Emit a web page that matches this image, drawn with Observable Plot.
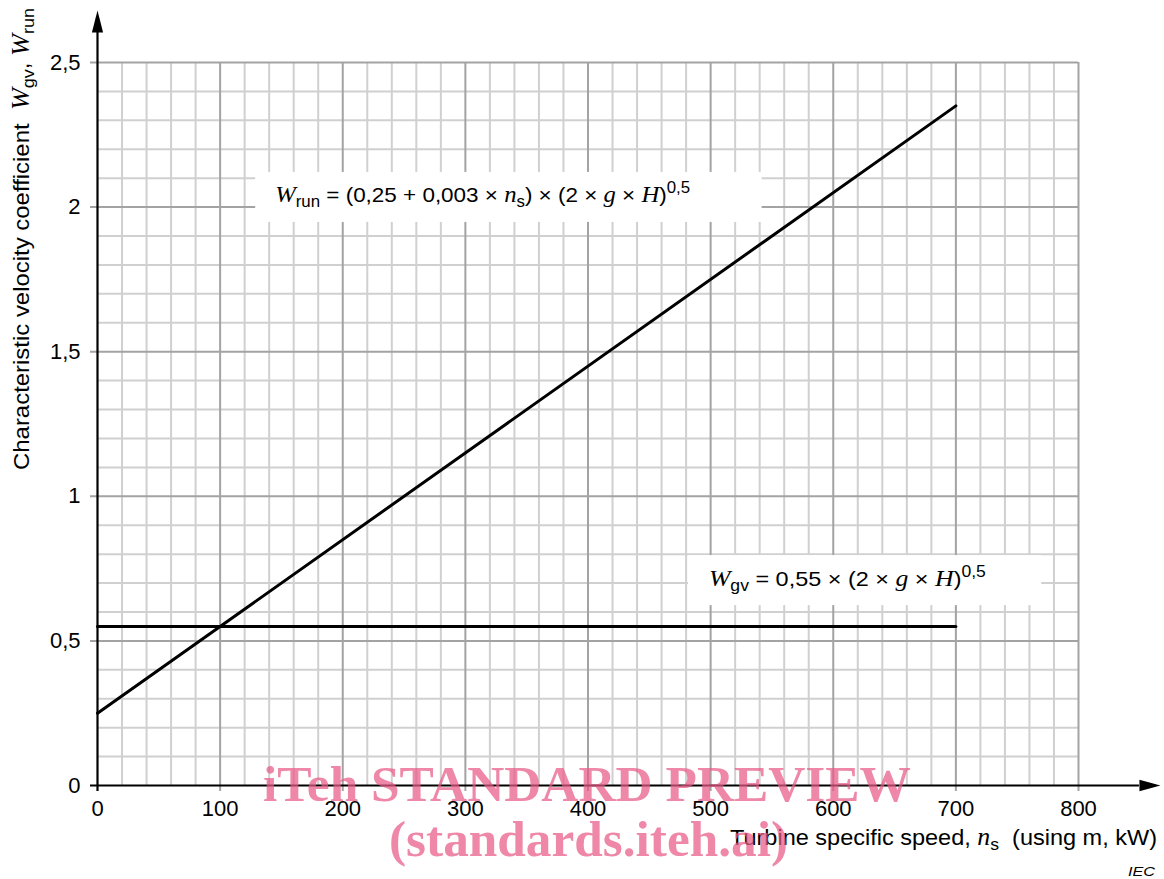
<!DOCTYPE html>
<html><head><meta charset="utf-8">
<script src="https://cdn.jsdelivr.net/npm/d3@7"></script>
<script src="https://cdn.jsdelivr.net/npm/@observablehq/plot@0.6"></script>
<style>body{margin:0;background:#fff}</style>
</head><body><div id="chart"></div>
<script>
// ---- data ----
const xTicks = [0, 100, 200, 300, 400, 500, 600, 700, 800];
const yTicks = [0, 0.5, 1, 1.5, 2, 2.5];
const yTickLabels = ["0", "0,5", "1", "1,5", "2", "2,5"];
const nsValues = [0, 700];          // turbine specific speed
const wRunValues = [0.25, 2.35];    // W_run
const wGvValues = [0.55, 0.55];     // W_gv
const labelBoxes = [
  {x1: 129, x2: 542, y1: 1.947, y2: 2.12},
  {x1: 482, x2: 770, y1: 0.622, y2: 0.795}
];

const SANS = "'Liberation Sans', Arial, Helvetica, sans-serif";
const SERIF = "'Liberation Serif', 'Times New Roman', serif";

const xMinor = d3.range(0, 801, 20).filter(v => v % 100 !== 0);
const yMinor = d3.range(1, 26).map(v => v / 10).filter(v => Math.round(v * 10) % 5 !== 0);

const runData = nsValues.map((n, i) => ({n, w: wRunValues[i]}));
const gvData = nsValues.map((n, i) => ({n, w: wGvValues[i]}));

const plot = Plot.plot({
  width: 1164, height: 879,
  marginLeft: 97, marginRight: 86, marginTop: 62, marginBottom: 94,
  x: {domain: [0, 800]},
  y: {domain: [0, 2.5]},
  style: {fontFamily: SANS, fontSize: "22px", color: "black", background: "white"},
  marks: [
    Plot.ruleX(xMinor, {y1: 0, y2: 2.5, stroke: "#d0d0d0", strokeWidth: 2}),
    Plot.ruleY(yMinor, {x1: 0, x2: 800, stroke: "#d0d0d0", strokeWidth: 2}),
    Plot.ruleX(xTicks.slice(1), {y1: -0.021, y2: 2.5, stroke: "#a3a3a3", strokeWidth: 2}),
    Plot.ruleY(yTicks.slice(1), {x1: -5.7, x2: 800, stroke: "#a3a3a3", strokeWidth: 2}),
    Plot.rect(labelBoxes, {x1: "x1", x2: "x2", y1: "y1", y2: "y2", fill: "white"}),
    Plot.line(runData, {x: "n", y: "w", stroke: "black", strokeWidth: 3}),
    Plot.line(gvData, {x: "n", y: "w", stroke: "black", strokeWidth: 3}),
    // axis lines with arrows
    Plot.ruleY([0], {x1: -5.7, x2: 849.7, stroke: "black", strokeWidth: 2.2}),
    Plot.ruleX([0], {y1: -0.021, y2: 2.604, stroke: "black", strokeWidth: 2.2}),
    Plot.vector([{x: 849.7, y: 0}], {x: "x", y: "y", length: 21, rotate: 90, shape: "spike", r: 5.8, anchor: "start", fill: "black", stroke: "none"}),
    Plot.vector([{x: 0, y: 2.604}], {x: "x", y: "y", length: 22, rotate: 0, shape: "spike", r: 5.6, anchor: "start", fill: "black", stroke: "none"}),
    Plot.axisX({ticks: xTicks, tickSize: 0, tickPadding: 15, label: null, fontSize: 22}),
    Plot.axisY({ticks: yTicks, tickFormat: d => yTickLabels[yTicks.indexOf(d)], tickSize: 0, tickPadding: 17, label: null, fontSize: 22})
  ]
});
document.getElementById("chart").appendChild(plot);

const svg = d3.select(plot);
const sx = plot.scale("x"), sy = plot.scale("y");

function rich(x, y, parts, o) {
  const t = svg.append("text")
    .attr("font-family", SANS).attr("font-size", o.size).attr("fill", "black")
    .attr("text-anchor", "start")
    .style("white-space", "pre");
  if (o.transform) t.attr("transform", o.transform); else t.attr("x", x).attr("y", y);
  if (o.italic) t.attr("font-style", "italic");
  for (const p of parts) {
    const s = t.append("tspan").text(p.t);
    if (p.it) s.attr("font-family", SERIF).attr("font-style", "italic").attr("font-size", o.size * 1.1);
    if (p.sub) s.attr("font-size", o.size * 0.75).attr("baseline-shift", `${-o.size * 0.22}px`);
    if (p.sup) s.attr("font-size", o.size * 0.75).attr("baseline-shift", `${o.size * 0.42}px`);
  }
  if (o.len) t.attr("textLength", o.len).attr("lengthAdjust", "spacingAndGlyphs");
  return t;
}

// formulas
rich(sx.apply(145.3), sy.apply(2.015), [
  {t: "W", it: true}, {t: "run", sub: true}, {t: " = (0,25 + 0,003 × "}, {t: "n", it: true}, {t: "s", sub: true},
  {t: ") × (2 × "}, {t: "g", it: true}, {t: " × "}, {t: "H", it: true}, {t: ")"}, {t: "0,5", sup: true}
], {size: 21, len: 415});
rich(sx.apply(499), sy.apply(0.688), [
  {t: "W", it: true}, {t: "gv", sub: true}, {t: " = 0,55 × (2 × "}, {t: "g", it: true}, {t: " × "}, {t: "H", it: true}, {t: ")"}, {t: "0,5", sup: true}
], {size: 21, len: 277});

// axis titles
rich(0, 0, [
  {t: "Characteristic velocity coefficient  "}, {t: "W", it: true}, {t: "gv", sub: true}, {t: ", "}, {t: "W", it: true}, {t: "run", sub: true}
], {size: 22, transform: "translate(28.5,470) rotate(-90)", len: 462});
rich(730, 845, [
  {t: "Turbine specific speed, "}, {t: "n", it: true}, {t: "s", sub: true}, {t: "  (using m, kW)"}
], {size: 22, len: 427});
rich(1128, 876, [{t: "IEC"}], {size: 13, italic: true, len: 27});

// watermark
const wm = svg.append("g").attr("fill", "rgb(232,90,135)").attr("opacity", 0.72)
  .attr("text-anchor", "start")
  .attr("font-family", SERIF).attr("font-weight", "bold").attr("font-size", 51);
wm.append("text").attr("x", 263).attr("y", 801).attr("textLength", 648).attr("lengthAdjust", "spacingAndGlyphs").text("iTeh STANDARD PREVIEW");
wm.append("text").attr("x", 389).attr("y", 856).attr("textLength", 399).attr("lengthAdjust", "spacingAndGlyphs").text("(standards.iteh.ai)");
</script>
</body></html>
